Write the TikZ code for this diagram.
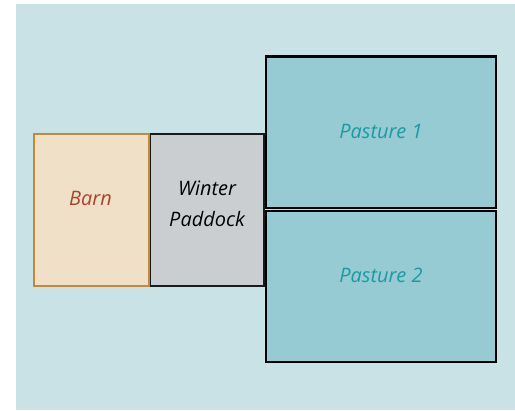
\documentclass[tikz,border=0pt]{standalone}
\usepackage{fontspec}
\setmainfont{Open Sans}
\definecolor{bg}{HTML}{C8E2E6}
\definecolor{barnfill}{HTML}{F0E0C8}
\definecolor{barnedge}{HTML}{C08A3E}
\definecolor{barntext}{HTML}{A8462A}
\definecolor{padfill}{HTML}{CBCED1}
\definecolor{padedge}{HTML}{1A1A1A}
\definecolor{pastfill}{HTML}{97CBD4}
\definecolor{pasttext}{HTML}{1A9AA2}
\begin{document}
\begin{tikzpicture}[x=1bp,y=-1bp,
  area/.style={font=\itshape\fontsize{20}{31}\selectfont, align=center},
  barnbox/.style={fill=barnfill, draw=barnedge, line width=2bp},
  padbox/.style={fill=padfill, draw=padedge, line width=2bp},
  pastbox/.style={fill=pastfill, draw=black, line width=2.3bp}]
\useasboundingbox (0,0) rectangle (515,410);
\fill[bg] (16,4) rectangle (515,410);
\draw[padbox] (149.5,133.5) rectangle (264,285.5);
\draw[barnbox] (33.5,133.5) rectangle (148.5,285.5);
\draw[pastbox] (266,56.5) rectangle (496,208);
\draw[pastbox] (266,211) rectangle (496,362);
\node[area, text=barntext] (barn) at (90.5,198) {Barn};
\node[area, text=black] (paddock) at (207,204) {Winter\\Paddock};
\node[area, text=pasttext] (p1) at (381,131) {Pasture 1};
\node[area, text=pasttext] (p2) at (381,275) {Pasture 2};
\end{tikzpicture}
\end{document}
